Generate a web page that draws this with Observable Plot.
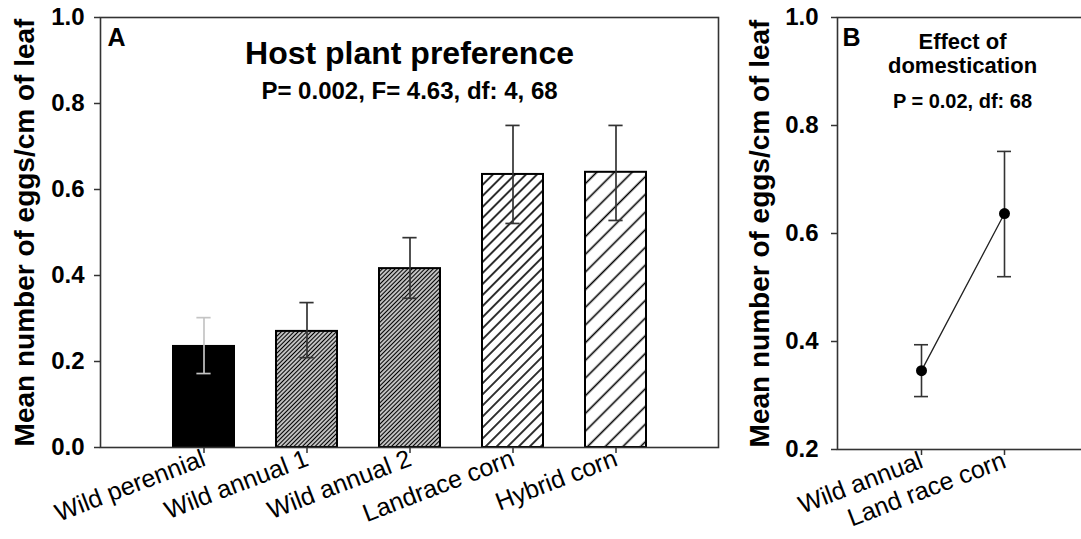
<!DOCTYPE html>
<html><head><meta charset="utf-8">
<script src="https://cdn.jsdelivr.net/npm/d3@7"></script>
<script src="https://cdn.jsdelivr.net/npm/@observablehq/plot@0.6"></script>
<style>
body{margin:0;background:#fff;}
#wrap{position:relative;width:1081px;height:539px;overflow:hidden;background:#fff;}
#a,#b{position:absolute;top:0;}
#a{left:0px;width:720px;} #b{left:720px;width:400px;}
#wrap svg{max-width:none !important;}
</style></head><body>
<div id="wrap"><div id="a"></div><div id="b"></div></div>
<script>
// ---------- Panel A data ----------
const categoriesA = ["Wild perennial", "Wild annual 1", "Wild annual 2", "Landrace corn", "Hybrid corn"];
const meansA = [0.235, 0.270, 0.416, 0.635, 0.640];
const lowA   = [0.172, 0.209, 0.347, 0.521, 0.528];
const highA  = [0.302, 0.337, 0.488, 0.749, 0.749];
const yTicksA = [0.0, 0.2, 0.4, 0.6, 0.8, 1.0];
const panelLetterA = "A";
const titleA = "Host plant preference";
const statsA = "P= 0.002, F= 4.63, df: 4, 68";

// ---------- Panel B data ----------
const categoriesB = ["Wild annual", "Land race corn"];
const meansB = [0.346, 0.637];
const lowB   = [0.298, 0.520];
const highB  = [0.394, 0.752];
const yTicksB = [0.2, 0.4, 0.6, 0.8, 1.0];
const panelLetterB = "B";
const titleB = "Effect of\ndomestication";
const statsB = "P = 0.02, df: 68";

const yLabel = "Mean number of eggs/cm of leaf";

// ---------- styles (not data) ----------
const FONT = "'Liberation Sans', Arial, Helvetica, sans-serif";
const barFill = {
  "Wild perennial": "#000",
  "Wild annual 1": "url(#hatchDense)",
  "Wild annual 2": "url(#hatchDense)",
  "Landrace corn": "url(#hatchMedium)",
  "Hybrid corn": "url(#hatchSparse)"
};
const errColor = c => c === "Wild perennial" ? "#c4c4c4" : "#333";
const fmt = d3.format(".1f");

const rowsA = categoriesA.map((c, i) => ({cat: c, mean: meansA[i], low: lowA[i], high: highA[i]}));
const rowsB = categoriesB.map((c, i) => ({cat: c, mean: meansB[i], low: lowB[i], high: highB[i]}));

// band geometry for caps
const padIn = 0.41, padOut = 0.705;
const widthA = 720, mlA = 100, mrA = 2;
const stepA = (widthA - mlA - mrA) / (categoriesA.length - padIn + 2 * padOut);
const bwA = stepA * (1 - padIn);
const capW = 14;
const capInset = (bwA - capW) / 2;

// panel B: frame continues past the right edge of the page (no right border visible)
const widthB = 400, mlB = 117, spanB = 250;
const stepB = spanB / 3;
const padInB = 1 - capW / stepB;
const padOutB = (3 - categoriesB.length + padInB) / 2;
const titleShiftB = (mlB + spanB / 2) - (mlB + widthB) / 2;

const tickFont = 24, xLabFont = 25, yLabFont = 28;

const plotA = Plot.plot({
  width: widthA, height: 539,
  marginLeft: mlA, marginRight: mrA, marginTop: 17, marginBottom: 92,
  style: {fontFamily: FONT, color: "#000", background: "transparent", overflow: "visible", maxWidth: "none"},
  x: {type: "band", domain: categoriesA, paddingInner: padIn, paddingOuter: padOut},
  y: {domain: [0, 1]},
  marks: [
    ...categoriesA.map(c => Plot.barY(rowsA.filter(d => d.cat === c),
      {x: "cat", y: "mean", fill: barFill[c], stroke: "#000", strokeWidth: 2})),
    ...categoriesA.map(c => Plot.ruleX(rowsA.filter(d => d.cat === c),
      {x: "cat", y1: "low", y2: "high", stroke: errColor(c), strokeWidth: 1.7})),
    ...categoriesA.map(c => Plot.tickY(rowsA.filter(d => d.cat === c),
      {x: "cat", y: "high", stroke: errColor(c), strokeWidth: 1.7, insetLeft: capInset, insetRight: capInset})),
    ...categoriesA.map(c => Plot.tickY(rowsA.filter(d => d.cat === c),
      {x: "cat", y: "low", stroke: errColor(c), strokeWidth: 1.7, insetLeft: capInset, insetRight: capInset})),
    Plot.frame({stroke: "#333", strokeWidth: 1.6}),
    Plot.axisY({ticks: yTicksA, tickFormat: fmt, fontSize: tickFont, fontWeight: "bold", tickSize: 6, tickPadding: 10, label: null, stroke: "#333", strokeWidth: 1.5}),
    Plot.axisX({tickRotate: -21, fontSize: xLabFont, tickSize: 6, tickPadding: 4, label: null, stroke: "#333", strokeWidth: 1.5}),
    Plot.text([yLabel], {frameAnchor: "left", textAnchor: "middle", lineAnchor: "middle", dx: -75, rotate: -90, fontSize: yLabFont, fontWeight: "bold"}),
    Plot.text([panelLetterA], {frameAnchor: "top-left", textAnchor: "start", lineAnchor: "bottom", dx: 7, dy: 28, fontSize: 25, fontWeight: "bold"}),
    Plot.text([titleA], {frameAnchor: "top", lineAnchor: "bottom", dy: 46, fontSize: 32, fontWeight: "bold"}),
    Plot.text([statsA], {frameAnchor: "top", lineAnchor: "bottom", dy: 81, fontSize: 24, fontWeight: "bold"})
  ]
});

const plotB = Plot.plot({
  width: widthB, height: 539,
  marginLeft: mlB, marginRight: 0, marginTop: 17, marginBottom: 90,
  style: {fontFamily: FONT, color: "#000", background: "transparent", overflow: "visible", maxWidth: "none"},
  x: {type: "band", domain: categoriesB, range: [mlB, mlB + spanB], paddingInner: padInB, paddingOuter: padOutB},
  y: {domain: [0.2, 1]},
  marks: [
    Plot.frame({stroke: "#333", strokeWidth: 1.6}),
    Plot.line(rowsB, {x: "cat", y: "mean", stroke: "#222", strokeWidth: 1.3}),
    Plot.ruleX(rowsB, {x: "cat", y1: "low", y2: "high", stroke: "#333", strokeWidth: 1.6}),
    Plot.tickY(rowsB, {x: "cat", y: "high", stroke: "#333", strokeWidth: 1.6}),
    Plot.tickY(rowsB, {x: "cat", y: "low", stroke: "#333", strokeWidth: 1.6}),
    Plot.dot(rowsB, {x: "cat", y: "mean", r: 5.5, fill: "#000", stroke: "none"}),
    Plot.axisY({ticks: yTicksB, tickFormat: fmt, fontSize: tickFont, fontWeight: "bold", tickSize: 6, tickPadding: 13, label: null, stroke: "#333", strokeWidth: 1.5}),
    Plot.axisX({tickRotate: -21, fontSize: xLabFont, tickSize: 6, tickPadding: 4, label: null, stroke: "#333", strokeWidth: 1.5}),
    Plot.text([yLabel], {frameAnchor: "left", textAnchor: "middle", lineAnchor: "middle", dx: -77, rotate: -90, fontSize: yLabFont, fontWeight: "bold"}),
    Plot.text([panelLetterB], {frameAnchor: "top-left", textAnchor: "start", lineAnchor: "bottom", dx: 5, dy: 28, fontSize: 25, fontWeight: "bold"}),
    Plot.text([titleB], {frameAnchor: "top", lineAnchor: "top", dx: titleShiftB, dy: 14, fontSize: 22, lineHeight: 1.1, fontWeight: "bold"}),
    Plot.text([statsB], {frameAnchor: "top", lineAnchor: "bottom", dx: titleShiftB, dy: 90, fontSize: 20, fontWeight: "bold"})
  ]
});

// hatch patterns
function addDefs(svg) {
  const defs = d3.select(svg).insert("defs", ":first-child");
  const pats = [["hatchDense", 3.0, 1.5], ["hatchMedium", 7.8, 1.6], ["hatchSparse", 12.5, 1.6]];
  for (const [id, w, sw] of pats) {
    const p = defs.append("pattern").attr("id", id).attr("patternUnits", "userSpaceOnUse")
      .attr("width", w).attr("height", w).attr("patternTransform", "rotate(45)");
    p.append("rect").attr("width", w).attr("height", w).attr("fill", "#fff");
    p.append("line").attr("x1", w / 2).attr("y1", -1).attr("x2", w / 2).attr("y2", w + 1)
      .attr("stroke", "#000").attr("stroke-width", sw);
  }
}
addDefs(plotA);
document.getElementById("a").appendChild(plotA);
document.getElementById("b").appendChild(plotB);
</script>
</body></html>
